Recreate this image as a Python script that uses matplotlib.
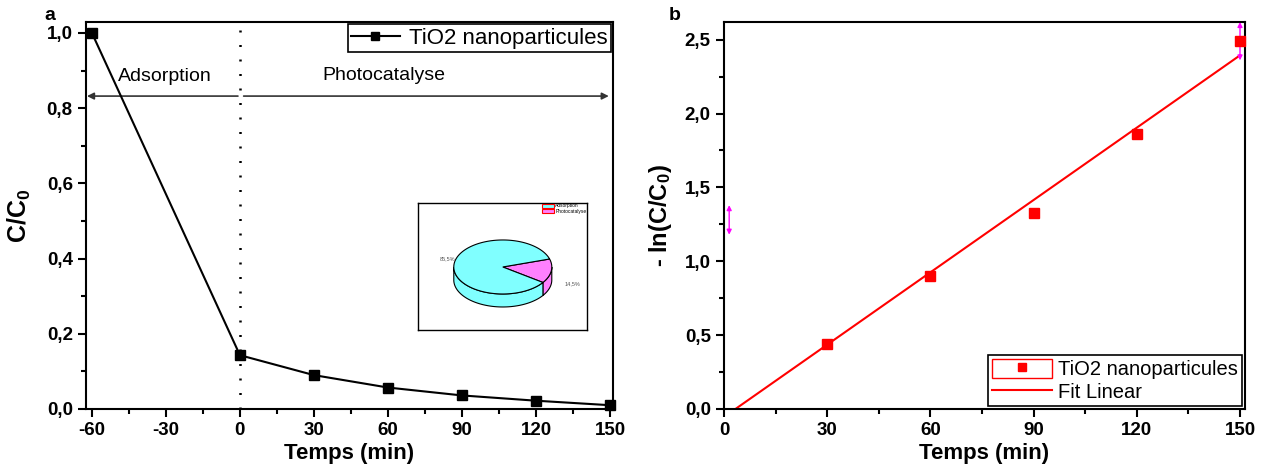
import numpy as np
import matplotlib.pyplot as plt
from matplotlib.lines import Line2D
from matplotlib.patches import Patch, Polygon, Rectangle
from matplotlib.legend_handler import HandlerTuple
from matplotlib.ticker import MultipleLocator, FuncFormatter

plt.rcParams['font.family'] = ['Liberation Sans', 'DejaVu Sans']
plt.rcParams['mathtext.fontset'] = 'custom'
plt.rcParams['mathtext.rm'] = 'Liberation Sans:bold'
plt.rcParams['mathtext.it'] = 'Liberation Sans:bold'
plt.rcParams['mathtext.bf'] = 'Liberation Sans:bold'
plt.rcParams['axes.unicode_minus'] = False

# panel a : C/C0 vs time
t_a = [-60, 0, 30, 60, 90, 120, 150]
c_ratio = [1.0, 0.143, 0.090, 0.057, 0.036, 0.022, 0.010]

# panel b : -ln(C/C0) vs time
t_b = [0, 30, 60, 90, 120, 150]
ln_ratio = [0.0, 0.44, 0.90, 1.33, 1.86, 2.49]

# inset pie
pie_labels = ["Adsorption", "Photocatalyse"]
pie_values = [85.5, 14.5]
pie_texts = ["85,5%", "14,5%"]

cyan = "#80FFFF"
pink = "#FF80FF"


def comma(v, pos):
    return ("%.1f" % v).replace(".", ",")


def style_axes(ax):
    ax.tick_params(which='both', direction='out', top=False, right=False,
                   width=1.5, labelsize=13.5)
    ax.tick_params(which='major', length=6)
    ax.tick_params(which='minor', length=3.5)
    for s in ax.spines.values():
        s.set_linewidth(1.5)
    for lab in ax.get_xticklabels() + ax.get_yticklabels():
        lab.set_fontweight('bold')


fig = plt.figure(figsize=(12.66, 4.75), dpi=100)
ax1 = fig.add_axes([0.0679, 0.139, 0.4163, 0.8147])
ax2 = fig.add_axes([0.5719, 0.139, 0.4115, 0.8147])

# ---- panel a
ax1.plot(t_a, c_ratio, color='black', lw=1.5, marker='s', ms=6.5,
         label='TiO2 nanoparticules', clip_on=False, zorder=4)
ax1.axvline(0, color='black', lw=1.8, dashes=(0.8, 5))
ax1.set_xlim(-62.4, 151.2)
ax1.set_ylim(0, 1.029)
ax1.xaxis.set_major_locator(MultipleLocator(30))
ax1.xaxis.set_minor_locator(MultipleLocator(15))
ax1.yaxis.set_major_locator(MultipleLocator(0.2))
ax1.yaxis.set_minor_locator(MultipleLocator(0.1))
ax1.yaxis.set_major_formatter(FuncFormatter(comma))
ax1.set_xlabel('Temps (min)', fontsize=16, fontweight='bold', labelpad=3)
ax1.set_ylabel('C/C$_0$', fontsize=18, fontweight='bold', labelpad=10)
style_axes(ax1)

arrow_y = 0.832
ax1.annotate('', xy=(-62.0, arrow_y), xytext=(-0.8, arrow_y),
             arrowprops=dict(arrowstyle='-|>', color='#333333', lw=1.2,
                             mutation_scale=10, shrinkA=0, shrinkB=0))
ax1.annotate('', xy=(149.5, arrow_y), xytext=(1.5, arrow_y),
             arrowprops=dict(arrowstyle='-|>', color='#333333', lw=1.2,
                             mutation_scale=10, shrinkA=0, shrinkB=0))
ax1.text(-30.5, 0.885, 'Adsorption', ha='center', va='center', fontsize=14)
ax1.text(58.5, 0.888, 'Photocatalyse', ha='center', va='center', fontsize=14)

leg1 = ax1.legend(loc='upper right', bbox_to_anchor=(1.0, 1.0), borderaxespad=0.1,
                  fontsize=16, fancybox=False, edgecolor='black', framealpha=1,
                  handlelength=2.2, handletextpad=0.4, borderpad=0.15,
                  markerscale=0.9)
leg1.get_frame().set_linewidth(1.2)

# ---- inset pie (pseudo 3D)
axi = fig.add_axes([0.330, 0.3053, 0.1335, 0.2674])
axi.set_xlim(0, 169)
axi.set_ylim(0, 127)
axi.set_xticks([])
axi.set_yticks([])
for s in axi.spines.values():
    s.set_linewidth(1.0)
cx, cy, ra, rb, depth = 85, 63, 49, 27, 13
fr = np.array(pie_values) / np.sum(pie_values)
start = -35.0
slices = [(start, start + 360 * fr[1], pink), (start + 360 * fr[1], start + 360, cyan)]


def ell(a):
    r = np.radians(a)
    return cx + ra * np.cos(r), cy + rb * np.sin(r)


# side band (front half only)
for a0, a1, col in slices:
    th = np.linspace(a0, a1, 300)
    th = th[(th % 360) >= 180]
    if len(th) == 0:
        continue
    xs, ys = ell(th)
    pts = np.column_stack([np.r_[xs, xs[::-1]], np.r_[ys, ys[::-1] - depth]])
    axi.add_patch(Polygon(pts, closed=True, facecolor=col, edgecolor='black',
                          lw=0.8, zorder=2))
# top face
for a0, a1, col in slices:
    th = np.linspace(a0, a1, 200)
    xs, ys = ell(th)
    pts = np.column_stack([np.r_[cx, xs], np.r_[cy, ys]])
    axi.add_patch(Polygon(pts, closed=True, facecolor=col, edgecolor='black',
                          lw=0.8, zorder=3))
axi.text(22, 71, pie_texts[0], fontsize=4, color='#555555', ha='left', va='center')
axi.text(147, 46, pie_texts[1], fontsize=4, color='#555555', ha='left', va='center')
pie_handles = [Patch(facecolor=cyan, edgecolor='red', lw=0.8),
               Patch(facecolor=pink, edgecolor='red', lw=0.8)]
axi.legend(pie_handles, pie_labels, loc='upper right', fontsize=3.5, frameon=False,
           borderaxespad=0.0, handlelength=2.5, handleheight=0.9,
           handletextpad=0.2, labelspacing=0.1, borderpad=0.1)

# ---- panel b
ax2.plot(t_b[1:], ln_ratio[1:], ls='none', marker='s', ms=6.5, color='red',
         clip_on=False, zorder=4)
k, b0 = np.polyfit(t_b, ln_ratio, 1)
tf = np.linspace(0, 150, 50)
ax2.plot(tf, k * tf + b0, color='red', lw=1.5)
ax2.set_xlim(0, 151.45)
ax2.set_ylim(0, 2.62)
ax2.xaxis.set_major_locator(MultipleLocator(30))
ax2.xaxis.set_minor_locator(MultipleLocator(15))
ax2.yaxis.set_major_locator(MultipleLocator(0.5))
ax2.yaxis.set_minor_locator(MultipleLocator(0.25))
ax2.yaxis.set_major_formatter(FuncFormatter(comma))
ax2.set_xlabel('Temps (min)', fontsize=16, fontweight='bold', labelpad=3)
ax2.set_ylabel('- ln(C/C$_0$)', fontsize=17, fontweight='bold', labelpad=8)
style_axes(ax2)

# magenta reader marks
for (xm, y0, y1) in [(150, 2.36, 2.62), (1.5, 1.18, 1.38)]:
    ax2.annotate('', xy=(xm, y1), xytext=(xm, y0),
                 arrowprops=dict(arrowstyle='<|-|>', color='magenta', lw=1.0,
                                 mutation_scale=7, shrinkA=0, shrinkB=0),
                 annotation_clip=False)

h_mark = (Rectangle((0, 0), 1, 1, facecolor='white', edgecolor='red', lw=1.0),
          Line2D([], [], ls='none', marker='s', ms=6, color='red'))
h_fit = Line2D([], [], color='red', lw=1.5)
leg2 = ax2.legend([h_mark, h_fit], ['TiO2 nanoparticules', 'Fit Linear'],
                  handler_map={tuple: HandlerTuple(ndivide=1, pad=0)},
                  loc='lower right', bbox_to_anchor=(1.0, 0.0), borderaxespad=0.15,
                  fontsize=14.5, fancybox=False, edgecolor='black', framealpha=1,
                  handlelength=3.0, handleheight=1.1, handletextpad=0.3,
                  borderpad=0.2, labelspacing=0.1)
leg2.get_frame().set_linewidth(1.2)

fig.text(50 / 1266, 1 - 15 / 475, 'a', fontsize=14, fontweight='bold',
         ha='center', va='center')
fig.text(675 / 1266, 1 - 15 / 475, 'b', fontsize=14, fontweight='bold',
         ha='center', va='center')

fig.savefig('out.png', dpi=100)
